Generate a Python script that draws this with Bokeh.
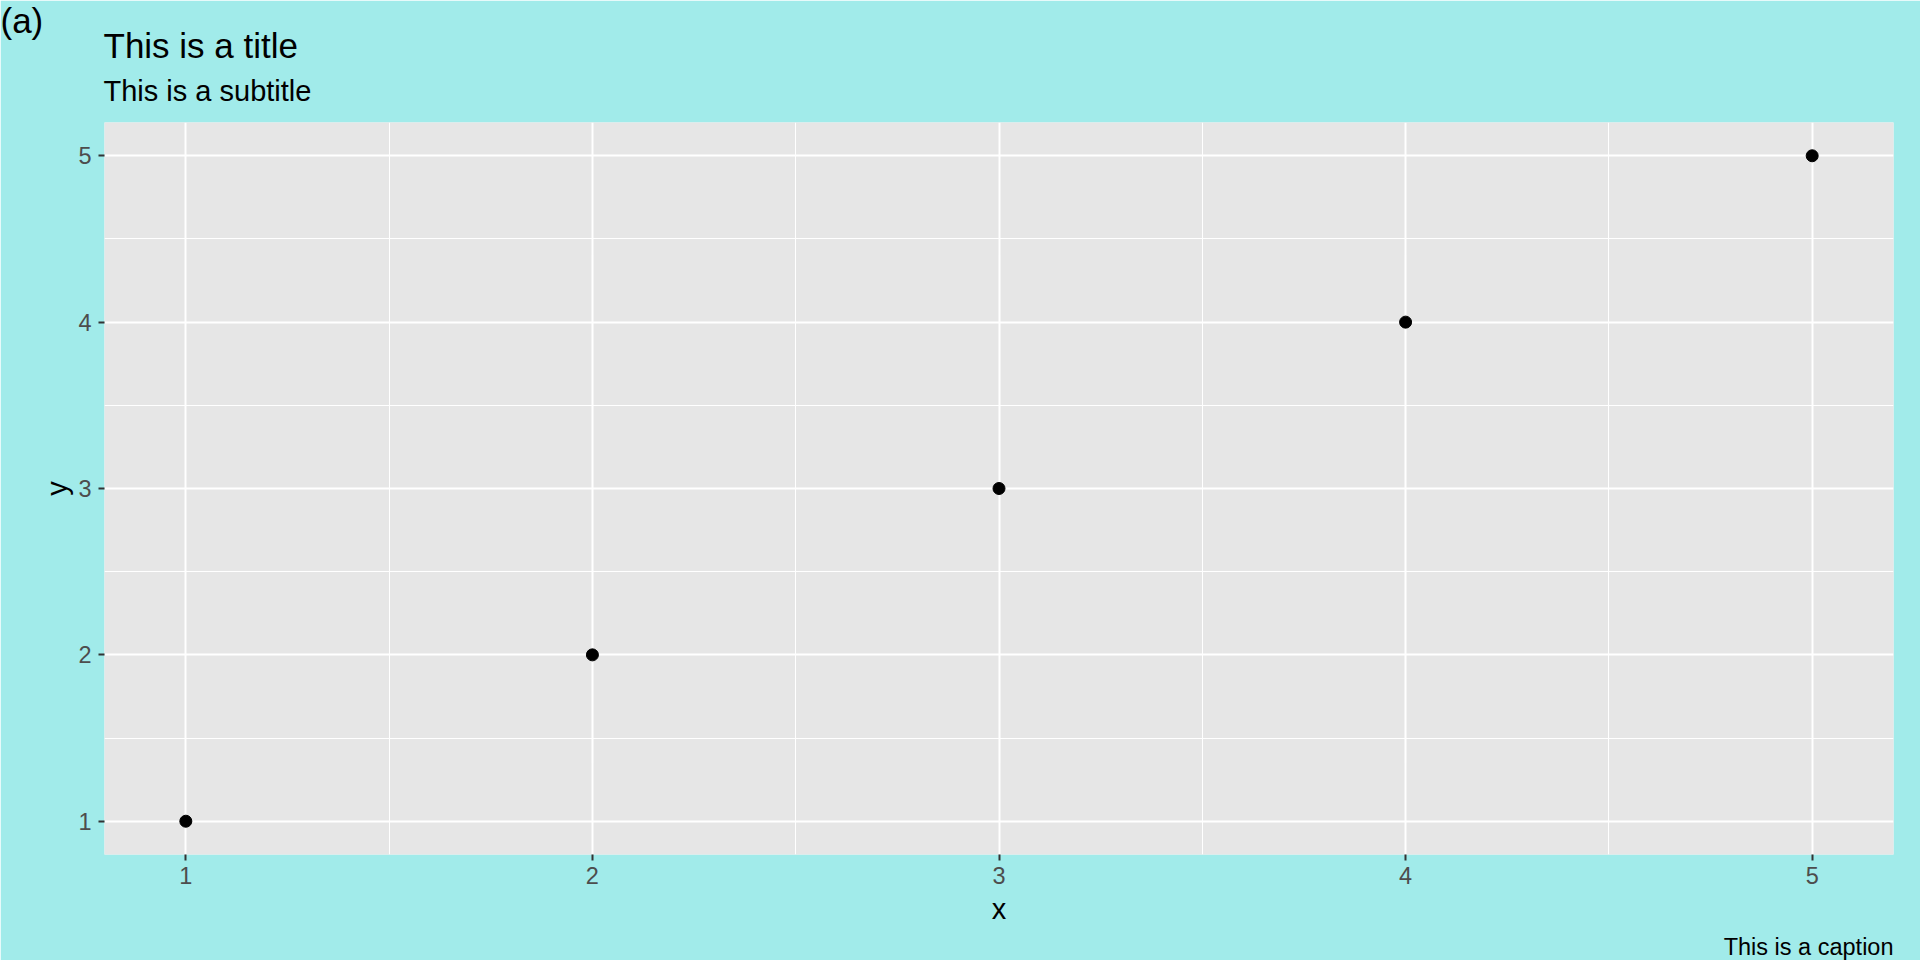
from bokeh.plotting import figure
from bokeh.models import Range1d, FixedTicker, Label
from bokeh.embed import file_html
from bokeh.resources import INLINE

# ---- data ----
x_vals = [1, 2, 3, 4, 5]
y_vals = [1, 2, 3, 4, 5]
x_ticks = [1, 2, 3, 4, 5]
y_ticks = [1, 2, 3, 4, 5]
title_text = "This is a title"
subtitle_text = "This is a subtitle"
caption_text = "This is a caption"
tag_text = "(a)"
x_label = "x"
y_label = "y"

FONT = "Liberation Sans"
BG = "#A1EBEA"
PANEL = "#E6E6E6"

W, H = 1920, 960
p = figure(width=W, height=H, output_backend="svg", toolbar_location=None,
           title=None,
           x_range=Range1d(0.8, 5.2), y_range=Range1d(0.8, 5.2),
           min_border_left=104, min_border_right=27,
           min_border_top=122, min_border_bottom=106)

p.background_fill_color = PANEL
p.border_fill_color = BG
p.outline_line_color = None

xt = FixedTicker(ticks=x_ticks, minor_ticks=[t + 0.5 for t in x_ticks[:-1]])
yt = FixedTicker(ticks=y_ticks, minor_ticks=[t + 0.5 for t in y_ticks[:-1]])
p.xaxis.ticker = xt
p.yaxis.ticker = yt
p.xgrid.ticker = xt
p.ygrid.ticker = yt

for g in (p.xgrid[0], p.ygrid[0]):
    g.grid_line_color = "white"
    g.grid_line_width = 2
    g.minor_grid_line_color = "white"
    g.minor_grid_line_width = 1

p.xaxis.axis_label = x_label
p.yaxis.axis_label = y_label
for ax in (p.xaxis[0], p.yaxis[0]):
    ax.axis_line_color = None
    ax.major_tick_line_color = "#333333"
    ax.major_tick_line_width = 2
    ax.major_tick_out = 6
    ax.major_tick_in = 0
    ax.minor_tick_line_color = None
    ax.major_label_text_font = FONT
    ax.major_label_text_font_size = "23.5px"
    ax.major_label_text_color = "#4D4D4D"
    ax.axis_label_text_font = FONT
    ax.axis_label_text_font_size = "29px"
    ax.axis_label_text_font_style = "normal"
    ax.axis_label_text_color = "black"
p.xaxis.major_label_standoff = 6
p.yaxis.major_label_standoff = 7
p.xaxis.axis_label_standoff = 6
p.yaxis.axis_label_standoff = 2

p.scatter(x_vals, y_vals, size=12, color="black")

def add_label(text, x, y, size, side, align="left"):
    p.add_layout(Label(x=x, y=y, x_units="canvas", y_units="canvas", text=text,
                       text_font=FONT, text_font_size=size, text_color="black",
                       text_align=align, text_baseline="alphabetic"), side)

add_label(subtitle_text, 103, 90, "29px", "above")
add_label(title_text, 103, 44.5, "35px", "above")
add_label(tag_text, 0, 20, "35px", "above")
add_label(caption_text, 1893, 946, "23.5px", "below", align="right")

open("out.html", "w").write(file_html(p, INLINE))
